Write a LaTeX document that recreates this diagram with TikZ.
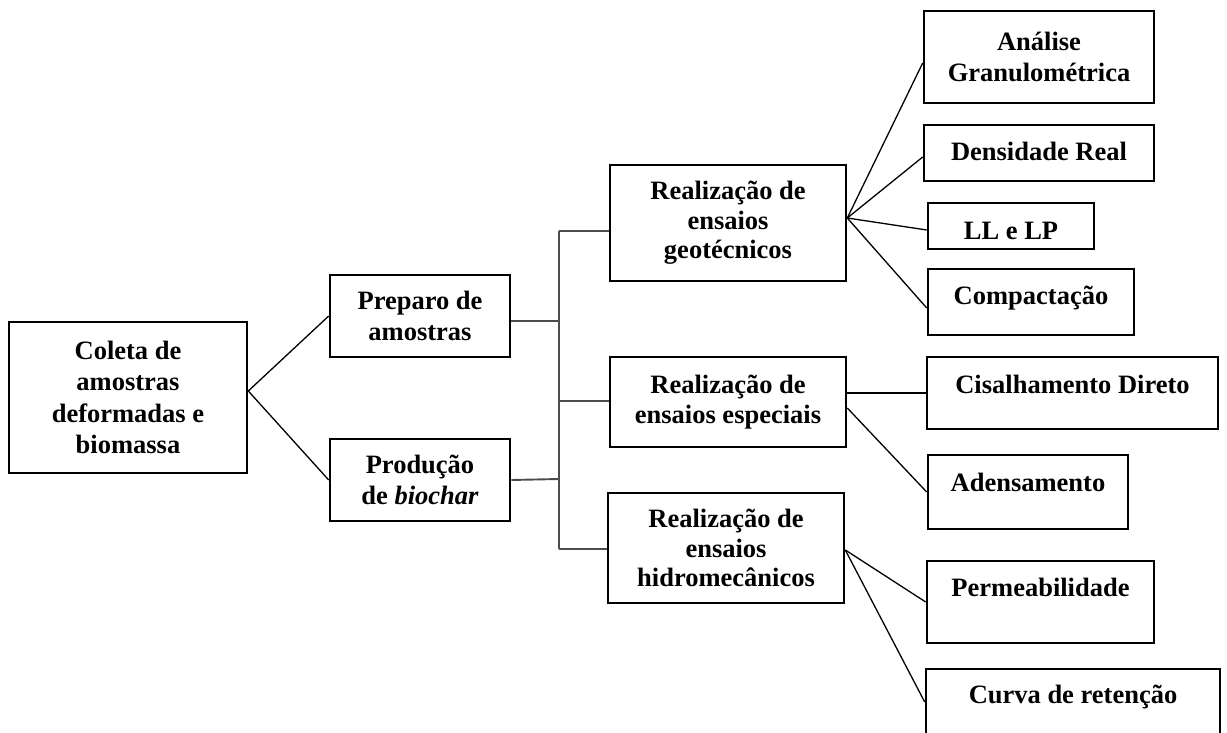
\documentclass[tikz,border=0pt]{standalone}
\usepackage{fontspec}
\setmainfont{Liberation Serif}
\begin{document}
\begin{tikzpicture}[x=1pt,y=-1pt,
  box/.style={draw, line width=2.6pt, align=center, inner sep=0pt,
    font=\bfseries\fontsize{26.5}{31.5}\selectfont},
  tight/.style={font=\bfseries\fontsize{26.5}{29.5}\selectfont},
  link/.style={line width=1.3pt, black},
  bar/.style={line width=1.9pt, black!70}]
\clip (0,0) rectangle (1227,733);
\fill[white] (0,0) rectangle (1227,733);
% left column
\node[box, minimum width=238pt, minimum height=151pt] (coleta) at (128,397.5)
  {Coleta de\\amostras\\deformadas e\\biomassa};
\node[box, minimum width=180pt, minimum height=82pt] (preparo) at (420,316)
  {Preparo de\\amostras};
\node[box, minimum width=180pt, minimum height=82pt] (producao) at (420,480)
  {Produção\\de \textit{biochar}};
% middle column
\node[box, tight, minimum width=236pt, minimum height=116pt] (geo) at (728,223)
  {Realização de\\ensaios\\geotécnicos};
\node[box, tight, minimum width=236pt, minimum height=90pt] (esp) at (728,402)
  {Realização de\\ensaios especiais};
\node[box, tight, minimum width=236pt, minimum height=110pt] (hidro) at (726,548)
  {Realização de\\ensaios\\hidromecânicos};
% right column
\node[box, minimum width=230pt, minimum height=92pt] (analise) at (1039,57)
  {Análise\\Granulométrica};
\node[box, minimum width=230pt, minimum height=56pt, text height=24pt, text depth=8pt] (dens) at (1039,153)
  {Densidade Real};
\node[box, minimum width=166pt, minimum height=46pt, text height=30pt, text depth=4pt] (ll) at (1011,226)
  {LL e LP};
\node[box, minimum width=206pt, minimum height=66pt, text height=20pt, text depth=16pt] (comp) at (1031,302)
  {Compactação};
\node[box, minimum width=291pt, minimum height=72pt, text height=18pt, text depth=18pt] (cis) at (1072.5,393)
  {Cisalhamento Direto};
\node[box, minimum width=200pt, minimum height=74pt, text height=17pt, text depth=19pt] (aden) at (1028,492)
  {Adensamento};
\node[box, minimum width=227pt, minimum height=82pt, text height=12pt, text depth=24pt] (perm) at (1040.5,602)
  {Permeabilidade};
\node[box, minimum width=294pt, minimum height=80pt, text height=12pt, text depth=24pt] (curva) at (1073,709)
  {Curva de retenção};
% junction coordinates
\coordinate (jp) at (559,321);
\coordinate (jq) at (559,479);
\coordinate (j1) at (559,231);
\coordinate (j2) at (559,401);
\coordinate (j3) at (559,549);
% connectors
\draw[link] ([yshift=6.5pt]coleta.east) -- (preparo.west);
\draw[link] ([yshift=6.5pt]coleta.east) -- (producao.west);
\draw[bar] ([yshift=-5pt]preparo.east) -- (jp);
\draw[bar] (producao.east) -- (jq);
\draw[bar] (j1) -- (j3);
\draw[bar] (j1) -- (geo.west |- j1);
\draw[bar] (j2) -- (esp.west |- j2);
\draw[bar] (j3) -- (hidro.west |- j3);
\draw[link] ([yshift=5pt]geo.east) -- ([yshift=-6pt]analise.west);
\draw[link] ([yshift=5pt]geo.east) -- ([yshift=-4pt]dens.west);
\draw[link] ([yshift=5pt]geo.east) -- ([yshift=-4pt]ll.west);
\draw[link] ([yshift=5pt]geo.east) -- ([yshift=-6pt]comp.west);
\draw[link] (esp.east |- cis.west) -- (cis.west);
\draw[link] ([yshift=-6pt]esp.east) -- (aden.west);
\draw[link] ([yshift=-2pt]hidro.east) -- (perm.west);
\draw[link] ([yshift=-2pt]hidro.east) -- ([yshift=7pt]curva.west);
\end{tikzpicture}
\end{document}
